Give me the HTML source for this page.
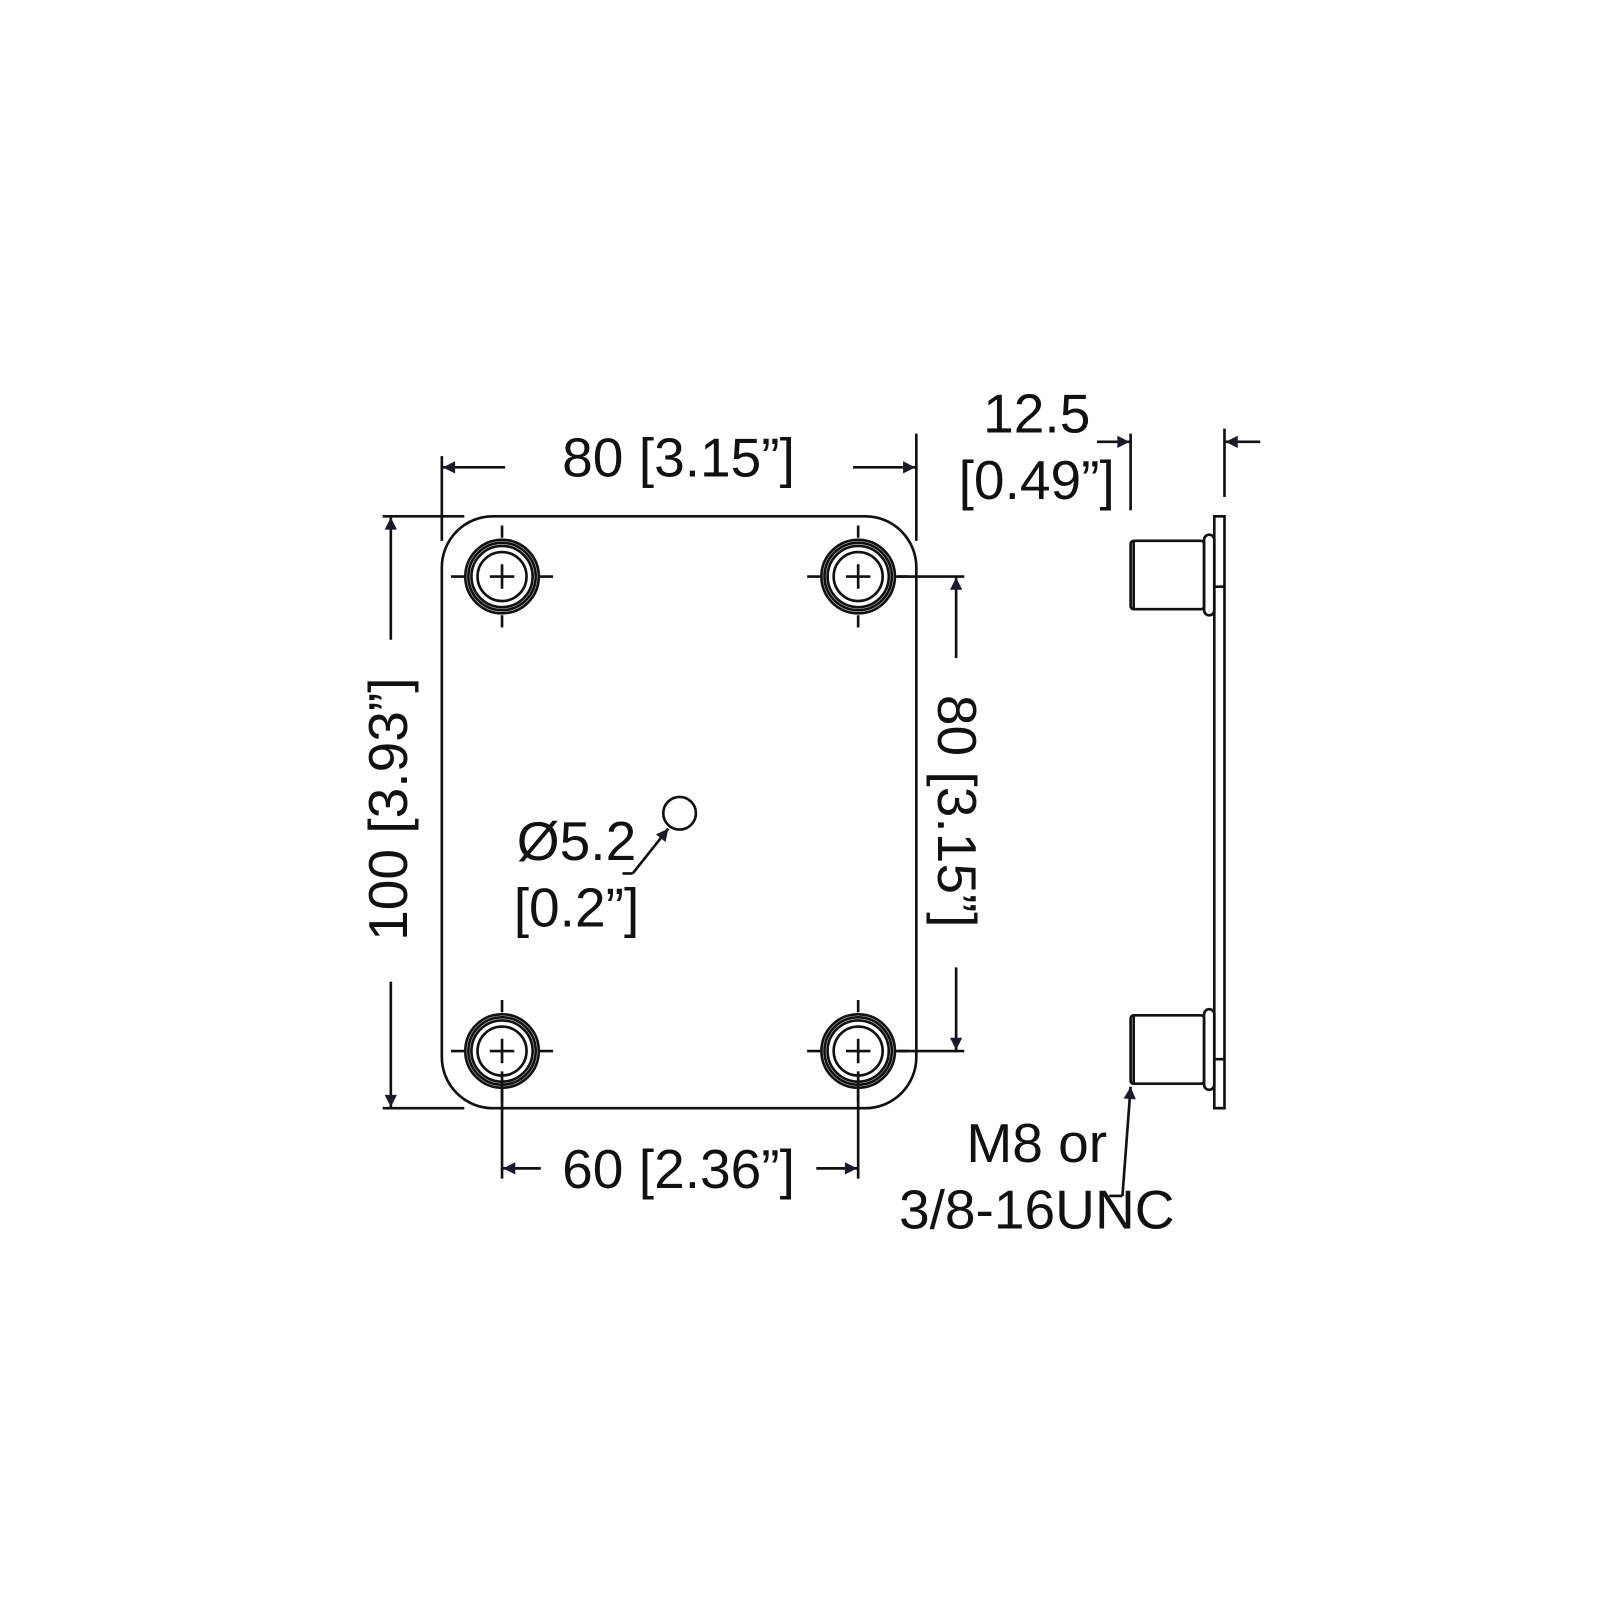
<!DOCTYPE html>
<html><head><style>html,body{margin:0;padding:0;background:#fff}svg{display:block}</style></head>
<body>
<svg width="1600" height="1600" viewBox="0 0 1568 1568" xmlns="http://www.w3.org/2000/svg">
<defs>
<marker id="a" viewBox="0 0 10 10" refX="10" refY="5" markerWidth="26" markerHeight="12" markerUnits="userSpaceOnUse" orient="auto"><path d="M0,0 L10,5 L0,10 Z" fill="#1a1a2a"/></marker>
</defs>
<g fill="none" stroke="#111" stroke-width="2.6">
<rect x="433" y="506" width="465" height="580" rx="50" ry="50"/>
<g id="h">
<circle cx="492" cy="565" r="36"/><circle cx="492" cy="565" r="33"/><circle cx="492" cy="565" r="30"/><circle cx="492" cy="565" r="24"/>
<path d="M492,527v-12M492,603v12M454,565h-12M530,565h12M480,565h24M492,553v24M442,565h14M528,565h14"/>
</g>
<use href="#h" x="349"/><use href="#h" y="465"/><use href="#h" x="349" y="465"/>
<path d="M433,447V530M898,425V530"/>
<path d="M495,458H434" marker-end="url(#a)"/><path d="M836,458H897" marker-end="url(#a)"/>
<path d="M375,506H455M375,1086H455"/>
<path d="M383,627V507" marker-end="url(#a)"/><path d="M383,962V1085" marker-end="url(#a)"/>
<path d="M880,565H945M880,1030H945"/>
<path d="M937,645V566" marker-end="url(#a)"/><path d="M937,948V1029" marker-end="url(#a)"/>
<path d="M492,1050V1155M841,1050V1155"/>
<path d="M530,1145H493" marker-end="url(#a)"/><path d="M800,1145H840" marker-end="url(#a)"/>
<path d="M1108,425V500M1200,420V487"/>
<path d="M1075,433H1107" marker-end="url(#a)"/><path d="M1235,433H1201" marker-end="url(#a)"/>
<rect x="1190" y="506" width="10" height="580"/>
<path d="M1190,575H1200M1190,1038H1200"/>
<rect x="1108" y="530" width="72" height="67" rx="3"/>
<path d="M1111,531V596"/>
<rect x="1180" y="524" width="10" height="79" rx="5"/>
<rect x="1108" y="995" width="72" height="67" rx="3"/>
<path d="M1111,996V1061"/>
<rect x="1180" y="989" width="10" height="79" rx="5"/>
<circle cx="666" cy="797" r="16"/>
<path d="M610,856H620"/><path d="M620,856L655,812" marker-end="url(#a)"/>
<path d="M1087,1172H1100"/><path d="M1100,1172L1108,1065" marker-end="url(#a)"/>
</g>
<g font-family="Liberation Sans, sans-serif" font-size="54" fill="#111" text-anchor="middle">
<text x="665" y="467">80 [3.15”]</text>
<text x="665" y="1164">60 [2.36”]</text>
<text x="1016" y="424">12.5</text>
<text x="1016" y="489">[0.49”]</text>
<text x="565" y="843">Ø5.2</text>
<text x="565" y="908">[0.2”]</text>
<text x="1016" y="1139">M8 or</text>
<text x="1016" y="1204">3/8-16UNC</text>
<text transform="translate(399,793) rotate(-90)">100 [3.93”]</text>
<text transform="translate(919,795) rotate(90)">80 [3.15”]</text>
</g>
</svg>
</body></html>
